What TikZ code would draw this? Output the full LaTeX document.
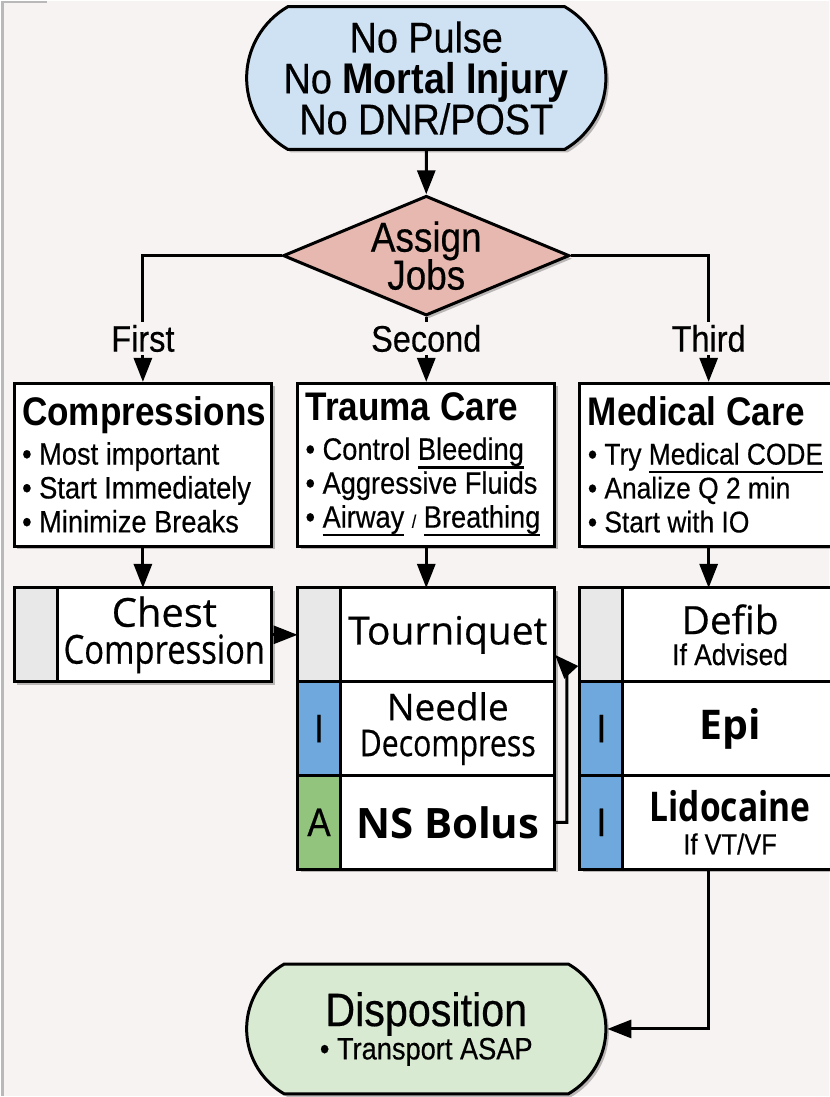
\documentclass[tikz,border=0pt]{standalone}
\usepackage{fontspec}
\setmainfont{Liberation Sans}[FakeStretch=0.88, UprightFeatures={FakeBold=0.4}]
\newfontfamily\cellfont{Open Sans}[UprightFeatures={FakeBold=0.5}]
\newfontfamily\cellnarrow{Open Sans}[FakeStretch=0.82, UprightFeatures={FakeBold=0.5}]
\usetikzlibrary{shapes.geometric, shapes.misc, arrows.meta, positioning, shadows}

\definecolor{bgpaper}{HTML}{F7F3F2}
\definecolor{termblue}{HTML}{CFE2F3}
\definecolor{decisionpink}{HTML}{E6B8AF}
\definecolor{termgreen}{HTML}{D9EAD3}
\definecolor{tabgray}{HTML}{E8E8E8}
\definecolor{tabblue}{HTML}{6FA8DC}
\definecolor{tabgreen}{HTML}{93C47D}

\newsavebox\ulbox
\newcommand{\ulword}[1]{\sbox\ulbox{#1}\rlap{\rule[-4.4pt]{\wd\ulbox}{1.1pt}}\usebox\ulbox}
\newcommand{\fsz}[2]{\fontsize{#1}{#2}\selectfont\lineskiplimit=-30pt\lineskip=0pt}
\newcommand{\taskhead}[1]{{\fsz{20}{22}\bfseries #1}}

\begin{document}
\begin{tikzpicture}[%
  x=0.5pt, y=-0.5pt,%
  soft/.style={drop shadow={shadow xshift=1.5pt, shadow yshift=-1.5pt, opacity=0.25, fill=black}},%
  terminal/.style={rounded rectangle, rounded rectangle arc length=120, draw=black, line width=1.5pt, minimum width=180pt, minimum height=71.5pt, align=center, inner sep=0pt, soft},%
  decision/.style={diamond, aspect=2.4, draw=black, line width=1.5pt, fill=decisionpink, minimum width=143.5pt, minimum height=60pt, inner sep=0pt, align=center, font=\fsz{21}{19}, soft},%
  branch/.style={inner sep=1.5pt, font=\fsz{18.5}{20}},%
  task/.style={rectangle, draw=black, fill=white, line width=1.5pt, minimum width=129pt, minimum height=81.5pt, text width=121pt, inner xsep=4pt, align=flush left, font=\fsz{15.5}{17}, soft},%
  tab/.style={rectangle, draw=black, line width=1.5pt, outer sep=0pt, minimum width=21.5pt, minimum height=47pt, inner sep=0pt, font=\fsz{20}{20}, soft},%
  cell/.style={rectangle, draw=black, fill=white, line width=1.5pt, outer sep=0pt, minimum width=107.5pt, minimum height=47pt, inner sep=2pt, align=center, font=\cellfont\fsz{19.5}{18}, soft},%
  link/.style={line width=1.5pt},%
  myarrow/.style={-{Triangle[length=12pt,width=9pt]}, line width=1.5pt}%
]
  \fill[bgpaper] (0,0) rectangle (830,1097);
  \draw[gray!55, line width=1.2pt] (1.5,0) -- (1.5,1097);
  \draw[gray!55, line width=1.2pt] (0,1) -- (46,1);
  \useasboundingbox (0,0) rectangle (830,1097);

  \node[terminal, fill=termblue, font=\fsz{21.5}{20.5}] (start) at (426,77) {No Pulse\\No \textbf{Mortal Injury}\\No DNR/POST};
  \node[decision] (assign) at (426,255) {Assign\\Jobs};
  \node[branch] (first) at (142,338) {First};
  \node[branch] (second) at (426,338) {Second};
  \node[branch] (third) at (709,338) {Third};

  \node[task] (comp) at (142,464.5) {\taskhead{Compressions}\\[2.5pt] • Most important\\ • Start Immediately\\ • Minimize Breaks};
  \node[task] (trauma) at (426,464.5) {\taskhead{Trauma Care}\\[2.5pt] • Control \ulword{Bleeding}\\ • Aggressive Fluids\\ • \ulword{Airway} {\small /} \ulword{Breathing}};
  \node[task, font=\fsz{15}{17}] (medical) at (709,464.5) {\taskhead{Medical Care}\\[2.5pt] • Try \ulword{Medical CODE}\\ • Analize Q 2 min\\ • Start with IO};

  \node[tab, fill=tabgray, anchor=north west] (chesttab) at (13,588) {};
  \node[cell, right=0pt of chesttab, font=\cellfont\fsz{20}{18.5}] (chest) {Chest\\{\cellnarrow Compression}};

  \node[tab, fill=tabgray, anchor=north west] (tourtab) at (297,588) {};
  \node[cell, right=0pt of tourtab] (tour) {Tourniquet};
  \node[tab, fill=tabblue, below=0pt of tourtab] (needletab) {I};
  \node[cell, right=0pt of needletab, font=\cellfont\fsz{18.5}{18}] (needle) {Needle\\{\cellnarrow Decompress}};
  \node[tab, fill=tabgreen, below=0pt of needletab] (nstab) {A};
  \node[cell, right=0pt of nstab, font=\cellfont\bfseries\fsz{21}{20}] (nsbolus) {NS Bolus};

  \node[tab, fill=tabgray, anchor=north west] (defibtab) at (580,588) {};
  \node[cell, right=0pt of defibtab, font=\fsz{15}{15.5}] (defib) {{\cellfont\fsz{19.5}{15.5}Defib}\\If Advised};
  \node[tab, fill=tabblue, below=0pt of defibtab] (epitab) {I};
  \node[cell, right=0pt of epitab, font=\cellfont\bfseries\fsz{20.5}{20}] (epi) {Epi};
  \node[tab, fill=tabblue, below=0pt of epitab] (lidotab) {I};
  \node[cell, right=0pt of lidotab, font=\fsz{14.5}{16.5}] (lido) {{\cellnarrow\bfseries\fsz{20.5}{16.5}Lidocaine}\\If VT/VF};

  \node[terminal, fill=termgreen, minimum height=65pt] (dispo) at (426,1030) {{\fsz{23.5}{18}Disposition}\\{\fsz{15.5}{18}• Transport ASAP}};

  \draw[myarrow] (start) -- (assign);
  \draw[link] (assign.west) -| (first.north);
  \draw[link] (assign.south) -- (second.north);
  \draw[link] (assign.east) -| (third.north);
  \draw[myarrow] (first) -- (comp);
  \draw[myarrow] (second) -- (trauma);
  \draw[myarrow] (third) -- (medical);
  \draw[myarrow] (comp) -- (comp |- chesttab.north);
  \draw[myarrow] (trauma) -- (trauma |- tourtab.north);
  \draw[myarrow] (medical) -- (medical |- defibtab.north);
  \draw[myarrow] (chest) -- (tourtab);
  \draw[myarrow] (nsbolus.east) -| (567,668) -- ([yshift=-10pt]tour.east);
  \draw[myarrow] (medical |- lido.south) |- (dispo.east);
\end{tikzpicture}
\end{document}
